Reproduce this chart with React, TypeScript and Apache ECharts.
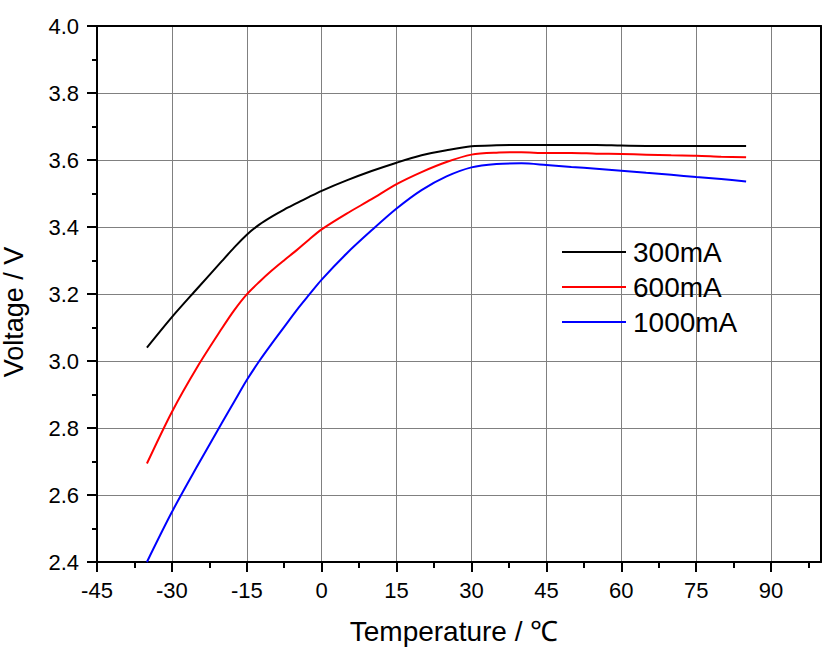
import React, { useEffect, useRef } from "react";
import * as echarts from "echarts";

const temps = [-35, -30, -25, -20, -17.5, -15, -12.5, -10, -7.5, -5, -2.5, 0, 5, 10, 15, 20, 25, 30, 35, 40, 45, 50, 55, 60, 65, 70, 75, 80, 85];
const v300 = [3.040, 3.131, 3.215, 3.298, 3.339, 3.377, 3.407, 3.431, 3.452, 3.471, 3.490, 3.508, 3.539, 3.567, 3.592, 3.614, 3.629, 3.641, 3.644, 3.645, 3.645, 3.645, 3.645, 3.643, 3.642, 3.642, 3.642, 3.642, 3.642];
const v600 = [2.694, 2.848, 2.980, 3.097, 3.152, 3.199, 3.236, 3.270, 3.301, 3.331, 3.363, 3.393, 3.440, 3.483, 3.528, 3.564, 3.594, 3.616, 3.622, 3.623, 3.621, 3.621, 3.619, 3.618, 3.616, 3.614, 3.613, 3.610, 3.608];
const v1000 = [2.400, 2.549, 2.684, 2.815, 2.879, 2.943, 3.000, 3.052, 3.102, 3.152, 3.198, 3.243, 3.321, 3.390, 3.455, 3.510, 3.551, 3.578, 3.588, 3.590, 3.585, 3.579, 3.574, 3.568, 3.562, 3.556, 3.549, 3.543, 3.536];
const seriesNames = ["300mA", "600mA", "1000mA"];
const seriesColors = ["#000000", "#ff0000", "#0000ff"];
const xMajorTicks = [-45, -30, -15, 0, 15, 30, 45, 60, 75, 90];
const xMinorTicks = [-37.5, -22.5, -7.5, 7.5, 22.5, 37.5, 52.5, 67.5, 82.5, 97.5];
const yMinorTicks = [2.5, 2.7, 2.9, 3.1, 3.3, 3.5, 3.7, 3.9];

const FONT = "'Liberation Sans', Arial, sans-serif";

export default function App() {
  const ref = useRef<HTMLDivElement>(null);
  useEffect(() => {
    document.body.style.margin = "0";
    if (!ref.current) return;
    const chart = echarts.init(ref.current, null, { renderer: "svg" });
    const gridPos = { left: 97, right: 13, top: 26, bottom: 95, containLabel: false, outerBoundsMode: "none" };
    const dataSets = [v300, v600, v1000];
    const option: any = {
      animation: false,
      backgroundColor: "#ffffff",
      textStyle: { fontFamily: FONT },
      grid: [{ ...gridPos }, { ...gridPos }],
      legend: {
        orient: "vertical",
        left: 562,
        top: 238,
        padding: 0,
        icon: "rect",
        itemWidth: 64,
        itemHeight: 2,
        itemGap: 7,
        data: seriesNames,
        textStyle: { fontSize: 28, color: "#000", fontFamily: FONT, lineHeight: 28, padding: [0, 0, 0, 2] },
      },
      xAxis: [
        {
          type: "value",
          gridIndex: 0,
          position: "bottom",
          min: -45,
          max: 100,
          interval: 15,
          name: "Temperature / ℃",
          nameLocation: "middle",
          nameGap: 55,
          nameTextStyle: { fontSize: 28, color: "#000", fontFamily: FONT, padding: [0, 10, 0, 0] },
          axisLine: { show: true, onZero: false, lineStyle: { color: "#000", width: 2 } },
          axisTick: { show: true, inside: false, length: 10, customValues: xMajorTicks, lineStyle: { color: "#000", width: 2 } },
          axisLabel: { show: true, margin: 17, fontSize: 22, color: "#000", fontFamily: FONT, customValues: xMajorTicks },
          splitLine: { show: true, lineStyle: { color: "#808080", width: 1 } },
        },
        {
          type: "value",
          gridIndex: 0,
          position: "top",
          min: -45,
          max: 100,
          interval: 15,
          axisLine: { show: true, onZero: false, lineStyle: { color: "#000", width: 2 } },
          axisTick: { show: false },
          axisLabel: { show: false },
          splitLine: { show: false },
        },
        {
          type: "value",
          gridIndex: 1,
          position: "bottom",
          min: -45,
          max: 100,
          interval: 7.5,
          axisLine: { show: false, onZero: false },
          axisTick: { show: true, length: 6, customValues: xMinorTicks, lineStyle: { color: "#000", width: 2 } },
          axisLabel: { show: false },
          splitLine: { show: false },
        },
      ],
      yAxis: [
        {
          type: "value",
          gridIndex: 0,
          position: "left",
          min: 2.4,
          max: 4.0,
          interval: 0.2,
          name: "Voltage / V",
          nameLocation: "middle",
          nameGap: 70,
          nameTextStyle: { fontSize: 27, color: "#000", fontFamily: FONT, padding: [0, 36, 0, 0] },
          axisLine: { show: true, onZero: false, lineStyle: { color: "#000", width: 2 } },
          axisTick: { show: true, length: 10, lineStyle: { color: "#000", width: 2 } },
          axisLabel: {
            show: true,
            margin: 18,
            fontSize: 22,
            color: "#000",
            fontFamily: FONT,
            formatter: (v: number) => v.toFixed(1),
          },
          splitLine: { show: true, lineStyle: { color: "#808080", width: 1 } },
        },
        {
          type: "value",
          gridIndex: 0,
          position: "right",
          min: 2.4,
          max: 4.0,
          interval: 0.2,
          axisLine: { show: true, onZero: false, lineStyle: { color: "#000", width: 2 } },
          axisTick: { show: false },
          axisLabel: { show: false },
          splitLine: { show: false },
        },
        {
          type: "value",
          gridIndex: 1,
          position: "left",
          min: 2.4,
          max: 4.0,
          interval: 0.2,
          axisLine: { show: false, onZero: false },
          axisTick: { show: true, length: 5, customValues: yMinorTicks, lineStyle: { color: "#000", width: 2 } },
          axisLabel: { show: false },
          splitLine: { show: false },
        },
      ],
      series: dataSets.map((vals, i) => ({
        name: seriesNames[i],
        type: "line",
        xAxisIndex: 0,
        yAxisIndex: 0,
        symbol: "none",
        smooth: 0.3,
        lineStyle: { color: seriesColors[i], width: 2 },
        itemStyle: { color: seriesColors[i] },
        data: temps.map((t, j) => [t, vals[j]]),
        z: 3 + i,
      })),
    };
    chart.setOption(option);
    return () => chart.dispose();
  }, []);
  return <div ref={ref} style={{ width: 834, height: 657 }} />;
}
